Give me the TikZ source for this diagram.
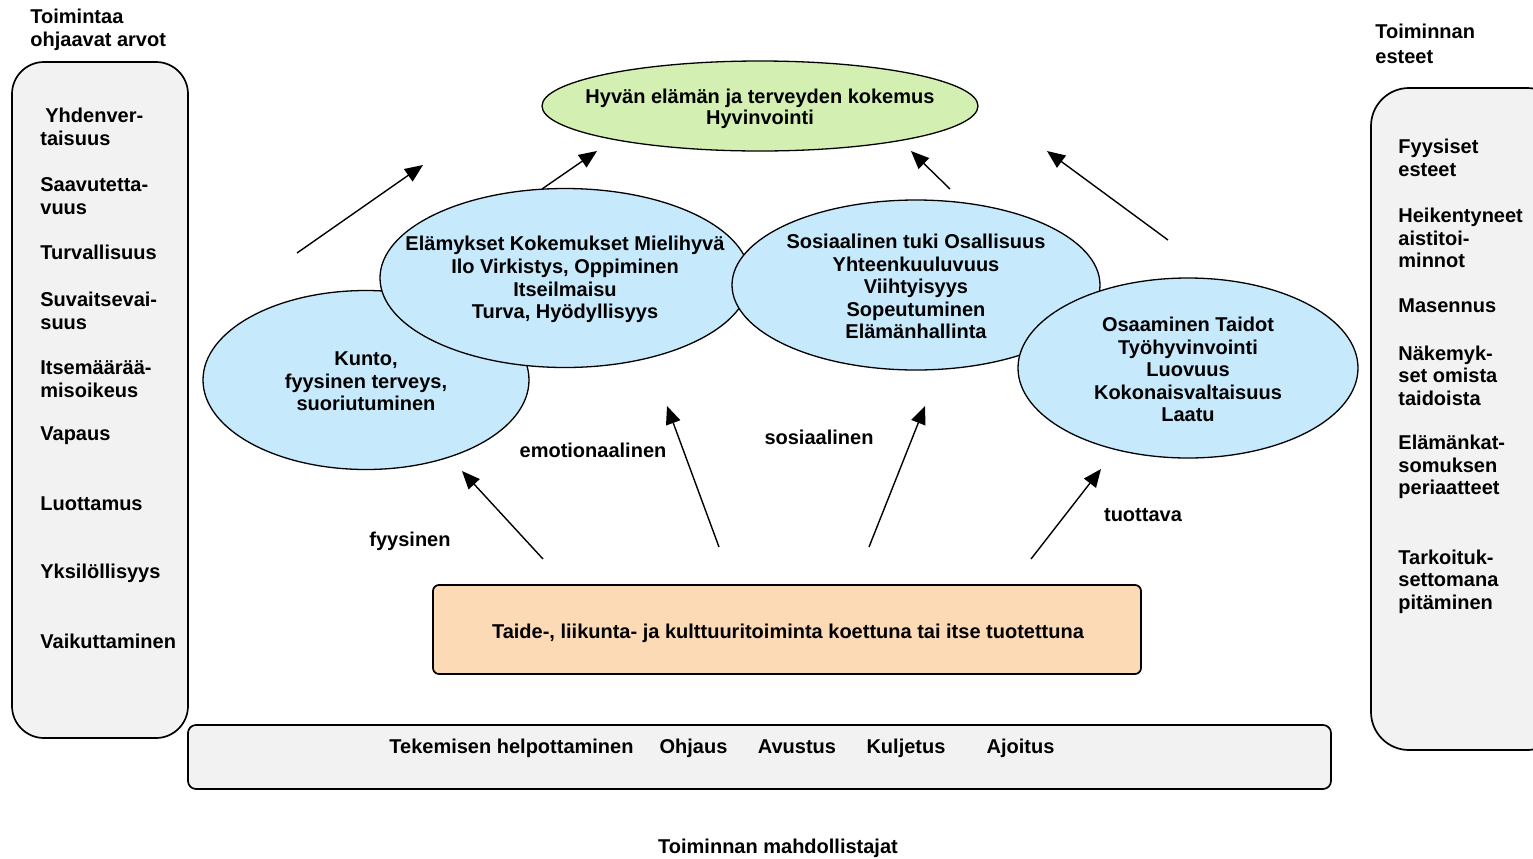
\documentclass[tikz,border=0pt]{standalone}
\usepackage{fontspec}
\setmainfont{Liberation Sans}
\usetikzlibrary{shapes.geometric,arrows.meta}
\definecolor{ellblue}{RGB}{198,233,252}
\definecolor{ellgreen}{RGB}{211,240,178}
\definecolor{peach}{RGB}{253,218,182}
\definecolor{panelgray}{RGB}{242,242,242}
\begin{document}
\begin{tikzpicture}[x=0.5pt,y=-0.5pt,
  every node/.style={font=\bfseries\fontsize{10}{11.3}\selectfont, inner sep=0pt},
  txt/.style={yshift=-0.8pt},
  rowtxt/.style={txt, text height=7.4pt, text depth=2.1pt},
  ell/.style={ellipse, draw, line width=0.65pt, fill=ellblue},
  item/.style={txt, anchor=west, align=left},
  ctext/.style={txt, align=center},
  arr/.style={-{Triangle[length=9pt,width=7.5pt]}, line width=0.7pt},
  panel/.style={rectangle, draw, line width=0.85pt, fill=panelgray}]
\useasboundingbox (0,0) rectangle (1533,858);

% side panels
\node[panel, rounded corners=16pt, minimum width=88pt, minimum height=338pt] (lbox) at (100,400) {};
\node[panel, rounded corners=19pt, minimum width=97pt, minimum height=331pt] (rbox) at (1468,419) {};

% titles
\node[item] (ltitle) at (30,28.5) {Toimintaa\\ohjaavat arvot};
\node[item, font=\bfseries\fontsize{10}{12.5}\selectfont] (rtitle) at (1375,42.5) {Toiminnan\\esteet};

% left items
\node[item] (l1) at (40,125.5) {\hspace*{2.5pt}Yhdenver-\\taisuus};
\node[item] (l2) at (40,194.5) {Saavutetta-\\vuus};
\node[item] (l3) at (40,251) {Turvallisuus};
\node[item] (l4) at (40,309) {Suvaitsevai-\\suus};
\node[item] (l5) at (40,377.5) {Itsemäärää-\\misoikeus};
\node[item] (l6) at (40,434) {Vapaus};
\node[item] (l7) at (40,502) {Luottamus};
\node[item] (l8) at (40,572) {Yksilöllisyys};
\node[item] (l9) at (40,640) {Vaikuttaminen};

% right items
\node[item] (r1) at (1398,156.5) {Fyysiset\\esteet};
\node[item] (r2) at (1398,236.5) {Heikentyneet\\aistitoi-\\minnot};
\node[item] (r3) at (1398,304) {Masennus};
\node[item] (r4) at (1398,374) {Näkemyk-\\set omista\\taidoista};
\node[item] (r5) at (1398,465.5) {Elämänkat-\\somuksen\\periaatteet};
\node[item] (r6) at (1398,580) {Tarkoituk-\\settomana\\pitäminen};

% top ellipse
\node[ellipse, draw, line width=0.65pt, fill=ellgreen, minimum width=218pt, minimum height=45pt] (top) at (760,106) {};
\node[ctext, yshift=-0.7pt, font=\bfseries\fontsize{10}{10.5}\selectfont] (toptext) at (top) {Hyvän elämän ja terveyden kokemus\\Hyvinvointi};

% four ellipses
\node[ell, minimum width=163pt, minimum height=89.5pt] (e1) at (366,380) {};
\node[ctext] (e1t) at (e1) {Kunto,\\fyysinen terveys,\\suoriutuminen};
\node[ell, minimum width=185pt, minimum height=89.5pt] (e2) at (565,278) {};
\node[ctext] (e2t) at (e2) {Elämykset Kokemukset Mielihyvä\\Ilo Virkistys, Oppiminen\\Itseilmaisu\\Turva, Hyödyllisyys};
\node[ell, minimum width=184pt, minimum height=85pt] (e3) at (916,285) {};
\node[ctext] (e3t) at (e3) {Sosiaalinen tuki Osallisuus\\Yhteenkuuluvuus\\Viihtyisyys\\Sopeutuminen\\Elämänhallinta};
\node[ell, minimum width=170pt, minimum height=90pt] (e4) at (1188,368) {};
\node[ctext] (e4t) at (e4) {Osaaminen Taidot\\Työhyvinvointi\\Luovuus\\Kokonaisvaltaisuus\\Laatu};

% activity box
\node[rectangle, draw, line width=0.85pt, fill=peach, rounded corners=3pt, minimum width=354pt, minimum height=44.5pt] (act) at (787,629.5) {};
\node[rowtxt] (actt) at (788,632) {Taide-, liikunta- ja kulttuuritoiminta koettuna tai itse tuotettuna};

% enabler box
\node[panel, rounded corners=4pt, minimum width=571.5pt, minimum height=32pt] (bbox) at (759.5,757) {};
\node[rowtxt] (b1) at (511.5,747) {Tekemisen helpottaminen};
\node[rowtxt] (b2) at (693.5,747) {Ohjaus};
\node[rowtxt] (b3) at (797,747) {Avustus};
\node[rowtxt] (b4) at (906,747) {Kuljetus};
\node[rowtxt] (b5) at (1020.5,747) {Ajoitus};
\node[rowtxt] (btitle) at (778,847) {Toiminnan mahdollistajat};

% arrow labels
\node[rowtxt] (lf) at (410,540) {fyysinen};
\node[rowtxt] (le) at (593,451) {emotionaalinen};
\node[rowtxt] (ls) at (819,438) {sosiaalinen};
\node[rowtxt] (lt) at (1143,515) {tuottava};

% arrow end points
\coordinate (u1a) at (297,253); \coordinate (u1b) at (423,165);
\coordinate (u2a) at (542,189); \coordinate (u2b) at (597,151);
\coordinate (u3a) at (950,189); \coordinate (u3b) at (911,151);
\coordinate (u4a) at (1168,240); \coordinate (u4b) at (1047,151);
\coordinate (d1a) at (543,559); \coordinate (d1b) at (462,471);
\coordinate (d2a) at (719,547); \coordinate (d2b) at (667,406);
\coordinate (d3a) at (869,547); \coordinate (d3b) at (925,406);
\coordinate (d4a) at (1031,559); \coordinate (d4b) at (1101,469);

\draw[arr] (u1a) -- (u1b);
\draw[arr] (u2a) -- (u2b);
\draw[arr] (u3a) -- (u3b);
\draw[arr] (u4a) -- (u4b);
\draw[arr] (d1a) -- (d1b);
\draw[arr] (d2a) -- (d2b);
\draw[arr] (d3a) -- (d3b);
\draw[arr] (d4a) -- (d4b);
\end{tikzpicture}
\end{document}
